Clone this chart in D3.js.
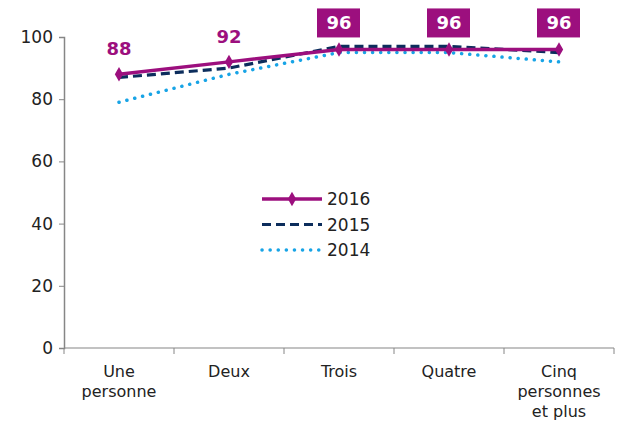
<!DOCTYPE html>
<html>
<head>
<meta charset="utf-8">
<script src="https://cdn.jsdelivr.net/npm/d3@7"></script>
<style>
  body { margin: 0; background: #fff; }
  svg text { font-family: "DejaVu Sans", Verdana, sans-serif; }
</style>
</head>
<body>
<svg id="chart" width="617" height="424"></svg>
<script>
// chart values
const categories = ["Une personne", "Deux", "Trois", "Quatre", "Cinq personnes et plus"];
const catLines = [["Une", "personne"], ["Deux"], ["Trois"], ["Quatre"], ["Cinq", "personnes", "et plus"]];
const v2016 = [88, 92, 96, 96, 96];
const v2015 = [87, 90, 97, 97, 95];
const v2014 = [79, 88, 95, 95, 92];
const yTicks = [0, 20, 40, 60, 80, 100];

const purple = "#9c0f7e", navy = "#0c2d5c", sky = "#18a4e6";

const margin = { top: 37, right: 3, bottom: 76, left: 64 },
    width = 617 - margin.left - margin.right,
    height = 424 - margin.top - margin.bottom;

const svg = d3.select("#chart");
const g = svg.append("g").attr("transform", `translate(${margin.left},${margin.top})`);

const x = d3.scaleBand().domain(categories).range([0, width]);
const y = d3.scaleLinear().domain([0, 100]).range([height, 0]);
const cx = d => x(d) + x.bandwidth() / 2;

// y axis
const yAxis = g.append("g")
    .call(d3.axisLeft(y).tickValues(yTicks).tickSize(5).tickPadding(6));
yAxis.select(".domain").attr("stroke", "#868686").attr("stroke-width", 1.5);
yAxis.selectAll(".tick line").attr("stroke", "#868686");
yAxis.selectAll("text").attr("font-size", 17).attr("fill", "#222");

// x axis: ticks at band edges
const xg = g.append("g").attr("transform", `translate(0,${height})`);
xg.append("line").attr("x1", 0).attr("x2", width).attr("stroke", "#868686").attr("stroke-width", 1.2);
const edges = categories.map(c => x(c)).concat([width]);
xg.selectAll("line.edge").data(edges).join("line").attr("class", "edge")
    .attr("x1", d => d).attr("x2", d => d).attr("y1", 0).attr("y2", 6)
    .attr("stroke", "#868686");
xg.selectAll("text.cat").data(categories).join("text").attr("class", "cat")
    .attr("text-anchor", "middle").attr("font-size", 16).attr("fill", "#222")
    .attr("x", d => cx(d))
    .each(function (d, i) {
        d3.select(this).selectAll("tspan").data(catLines[i]).join("tspan")
            .attr("x", cx(d)).attr("y", (t, j) => 29 + j * 20).text(t => t);
    });

const line = d3.line().x((d, i) => cx(categories[i])).y(d => y(d));

g.append("path").datum(v2014).attr("d", line).attr("fill", "none")
    .attr("stroke", sky).attr("stroke-width", 3.5)
    .attr("stroke-dasharray", "0.1 8").attr("stroke-linecap", "round");
g.append("path").datum(v2015).attr("d", line).attr("fill", "none")
    .attr("stroke", navy).attr("stroke-width", 3.2)
    .attr("stroke-dasharray", "9 5");
g.append("path").datum(v2016).attr("d", line).attr("fill", "none")
    .attr("stroke", purple).attr("stroke-width", 3.5);

const diamond = d3.symbol().type(d3.symbolDiamond).size(60);
g.selectAll("path.mk").data(v2016).join("path").attr("class", "mk")
    .attr("d", diamond)
    .attr("transform", (d, i) => `translate(${cx(categories[i])},${y(d)})`)
    .attr("fill", purple);

// data labels
v2016.forEach((d, i) => {
    const px = cx(categories[i]);
    if (i < 2) {
        g.append("text").attr("x", px).attr("y", y(d) - 19)
            .attr("text-anchor", "middle").attr("font-size", 18).attr("font-weight", "bold")
            .attr("fill", purple).text(d);
    } else {
        g.append("rect").attr("x", px - 22).attr("y", y(d) - 41).attr("width", 43).attr("height", 29)
            .attr("fill", purple);
        g.append("text").attr("x", px).attr("y", y(d) - 20)
            .attr("text-anchor", "middle").attr("font-size", 18).attr("font-weight", "bold")
            .attr("fill", "#fff").text(d);
    }
});

// legend
const legend = [
    { name: "2016", color: purple, dash: null, w: 3.5 },
    { name: "2015", color: navy, dash: "9 5", w: 3.2 },
    { name: "2014", color: sky, dash: "0.1 8", w: 3.5 }
];
const lg = svg.append("g").attr("transform", "translate(262,199)");
legend.forEach((l, i) => {
    const row = lg.append("g").attr("transform", `translate(0,${i * 25.5})`);
    row.append("line").attr("x1", 0).attr("x2", 60).attr("stroke", l.color)
        .attr("stroke-width", l.w).attr("stroke-dasharray", l.dash)
        .attr("stroke-linecap", l.name === "2014" ? "round" : "butt");
    if (l.name === "2016") row.append("path").attr("d", diamond).attr("transform", "translate(30,0)").attr("fill", purple);
    row.append("text").attr("x", 65).attr("y", 6).attr("font-size", 17).attr("fill", "#222").text(l.name);
});
</script>
</body>
</html>
